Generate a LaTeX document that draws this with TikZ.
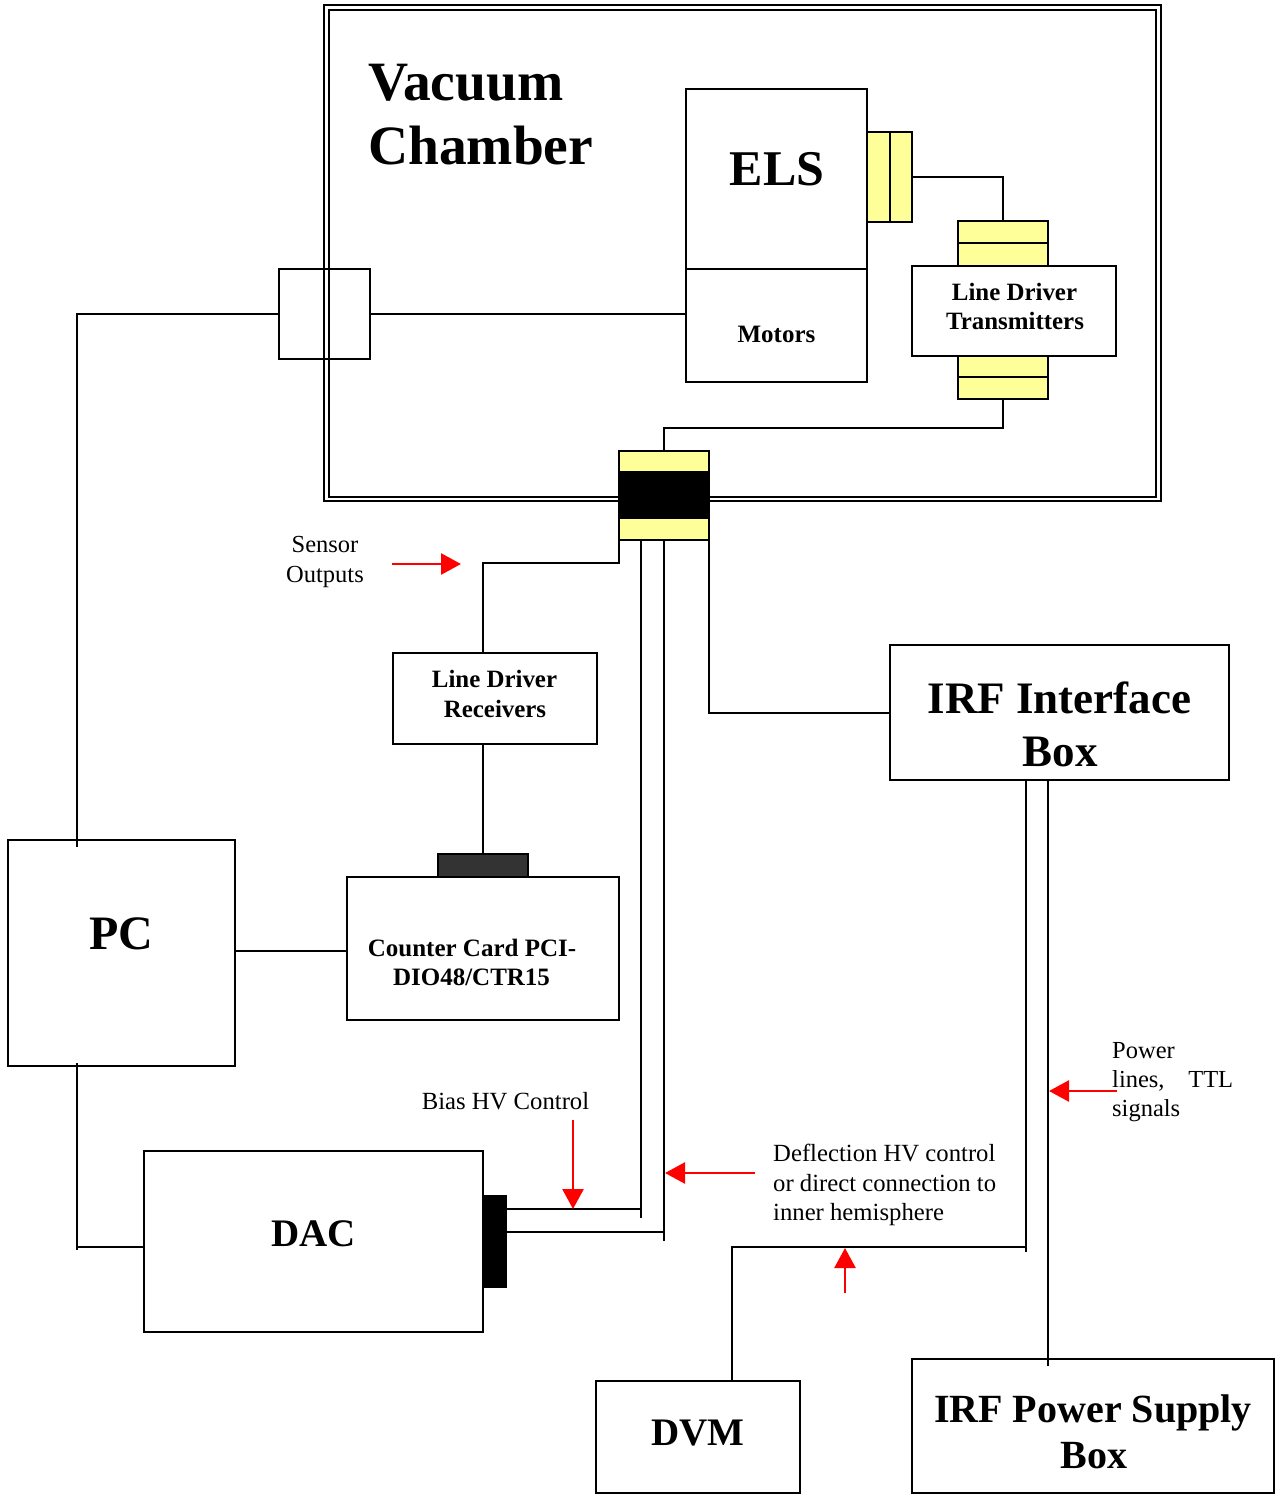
\documentclass[tikz,border=0pt]{standalone}
\usepackage{fontspec}
\setmainfont{Liberation Serif}
\usetikzlibrary{arrows.meta}
\definecolor{ylw}{HTML}{FFFF99}
\definecolor{darkc}{HTML}{333333}
\tikzset{
  box/.style={draw, line width=1.8pt, inner sep=0pt, outer sep=0pt},
  ybox/.style={box, fill=ylw},
  kbox/.style={box, fill=black},
  wire/.style={line width=2pt},
  redarrow/.style={draw=red, line width=2.6pt, -{Triangle[length=20pt,width=21pt]}},
  txt/.style={inner sep=0pt, anchor=base},
  txtl/.style={inner sep=0pt, anchor=base west},
}
\newcommand\fs[1]{\fontsize{#1}{#1}\selectfont}
\begin{document}
\begin{tikzpicture}[x=1pt,y=-1pt]
\useasboundingbox (0,0) rectangle (1279,1494);
% vacuum chamber double border
\node[box, minimum width=837pt, minimum height=496pt] (ch1) at (742.5,253) {};
\node[box, minimum width=827pt, minimum height=487pt] (ch2) at (742.5,253.5) {};
\node[txtl] (vac1) at (368,100) {\fs{55.5}\bfseries Vacuum};
\node[txtl] (vac2) at (368,164) {\fs{55.5}\bfseries Chamber};
% ELS and motors
\node[box, minimum width=181pt, minimum height=180pt] (els) at (776.5,179) {};
\node[box, minimum width=181pt, minimum height=113pt] (mot) at (776.5,325.5) {};
\node[txt] (elst) at (777,185) {\fs{50}\bfseries ELS};
\node[txt] (mott) at (776.5,342) {\fs{25}\bfseries Motors};
% ELS connector
\node[ybox, minimum width=23pt, minimum height=90pt] (elsA) at (878.5,177) {};
\node[ybox, minimum width=22pt, minimum height=90pt] (elsB) at (901,177) {};
% line driver transmitters
\node[box, minimum width=204pt, minimum height=90pt] (ldt) at (1014,311) {};
\node[ybox, minimum width=90pt, minimum height=22pt] (ldtT1) at (1003,232) {};
\node[ybox, minimum width=90pt, minimum height=23pt] (ldtT2) at (1003,254.5) {};
\node[ybox, minimum width=90pt, minimum height=21pt] (ldtB1) at (1003,366.5) {};
\node[ybox, minimum width=90pt, minimum height=22pt] (ldtB2) at (1003,388) {};
\node[txt] (ldt1) at (1014.5,300) {\fs{24.9}\bfseries Line Driver};
\node[txt] (ldt2) at (1015,329) {\fs{24.9}\bfseries Transmitters};
% feedthrough
\node[ybox, minimum width=90pt, minimum height=21pt] (f1) at (664,461.5) {};
\node[kbox, minimum width=90pt, minimum height=46pt] (f2) at (664,495) {};
\node[ybox, minimum width=90pt, minimum height=22pt] (f3) at (664,529) {};
% left connector
\node[box, minimum width=91pt, minimum height=90pt] (lc) at (324.5,314) {};
% PC
\node[box, minimum width=227pt, minimum height=226pt] (pc) at (121.5,953) {};
\node[txt] (pct) at (121,949) {\fs{48}\bfseries PC};
% line driver receivers
\node[box, minimum width=204pt, minimum height=91pt] (ldr) at (495,698.5) {};
\node[txt] (ldr1) at (494.5,687) {\fs{24.9}\bfseries Line Driver};
\node[txt] (ldr2) at (495,717) {\fs{24.9}\bfseries Receivers};
% counter card
\node[box, fill=darkc, minimum width=90pt, minimum height=23pt] (dk) at (483,865.5) {};
\node[box, minimum width=272pt, minimum height=143pt] (cc) at (483,948.5) {};
\node[txt] (cc1) at (472,956) {\fs{25}\bfseries Counter Card PCI-};
\node[txt] (cc2) at (471.5,985) {\fs{25}\bfseries DIO48/CTR15};
% IRF interface
\node[box, minimum width=339pt, minimum height=135pt] (irf) at (1059.5,712.5) {};
\node[txt] (irf1) at (1059.5,713) {\fs{45}\bfseries IRF Interface};
\node[txt] (irf2) at (1060,766) {\fs{45}\bfseries Box};
% DAC
\node[box, minimum width=339pt, minimum height=181pt] (dac) at (313.5,1241.5) {};
\node[kbox, minimum width=23pt, minimum height=91pt] (dacc) at (494.5,1241.5) {};
\node[txt] (dact) at (313.5,1246) {\fs{39}\bfseries DAC};
% DVM
\node[box, minimum width=204pt, minimum height=112pt] (dvm) at (698,1437) {};
\node[txt] (dvmt) at (698,1445) {\fs{39}\bfseries DVM};
% IRF power supply
\node[box, minimum width=362pt, minimum height=134pt] (ps) at (1093,1426) {};
\node[txt] (ps1) at (1093,1422) {\fs{40}\bfseries IRF Power Supply};
\node[txt] (ps2) at (1094,1468) {\fs{40}\bfseries Box};

% coordinates
\coordinate (pcin) at (77,847);
\coordinate (pcr) at (235,951);
\coordinate (q1) at (77,1247);
\coordinate (b1) at (641,1209);
\coordinate (b2) at (664,1232);
\coordinate (p1) at (1026,1247);
\coordinate (p2) at (1048,1359);
\coordinate (d1) at (732,1381);

% wires
\draw[wire] (lc.east) -- (lc.east -| mot.west);
\draw[wire] (lc.west) -| (pcin);
\draw[wire] (elsB.east) -| (ldtT1.north);
\draw[wire] (ldtB2.south) -- ++(0,29) -| (f1.north);
\draw[wire] (f3.south west) -- ++(0,23) -| (ldr.north -| dk.north);
\draw[wire] (ldr.south -| dk.north) -- (dk.north);
\draw[wire] (pcr) -- (cc.west |- pcr);
\draw[wire] (f3.south -| b1) -- ([yshift=-9pt]b1);
\draw[wire] (dacc.east |- b1) -- (b1);
\draw[wire] (f3.south) -- ([yshift=-9pt]b2);
\draw[wire] (dacc.east |- b2) -- (b2);
\draw[wire] (f3.south east) |- (irf.west);
\draw[wire] (irf.south -| p1) -- ([yshift=-5pt]p1);
\draw[wire] (p1) -| (d1);
\draw[wire] (irf.south -| p2) -- ([yshift=-7pt]p2);
\draw[wire] ([yshift=3pt]pc.south -| q1) -- ([yshift=-3pt]q1);
\draw[wire] (q1) -- (dac.west |- q1);

% labels and red arrows
\node[txt] (so1) at (325,552) {\fs{24.5}Sensor};
\node[txt] (so2) at (325,582) {\fs{24.5}Outputs};
\coordinate (sa1) at (392,564);
\coordinate (sa2) at (461,564);
\draw[redarrow] (sa1) -- (sa2);

\node[txt] (bias) at (505.5,1109) {\fs{24.7}Bias HV Control};
\coordinate (ba1) at (573,1120);
\coordinate (ba2) at (573,1209);
\draw[redarrow] (ba1) -- (ba2);

\node[txtl] (df1) at (773,1161) {\fs{24.7}Deflection HV control};
\node[txtl] (df2) at (773,1191) {\fs{24.7}or direct connection to};
\node[txtl] (df3) at (773,1220) {\fs{24.7}inner hemisphere};
\coordinate (da1) at (755,1173);
\coordinate (da2) at (665,1173);
\draw[redarrow] (da1) -- (da2);
\coordinate (ua1) at (845,1293);
\coordinate (ua2) at (845,1248);
\draw[redarrow] (ua1) -- (ua2);

\node[txtl] (pw1) at (1112,1058) {\fs{24.5}Power};
\node[txtl] (pw2) at (1112,1087) {\fs{24.5}\makebox[121pt][l]{lines,\hfill TTL}};
\node[txtl] (pw3) at (1112,1116) {\fs{24.5}signals};
\coordinate (pa1) at (1117,1091);
\coordinate (pa2) at (1049,1091);
\draw[redarrow] (pa1) -- (pa2);
\end{tikzpicture}
\end{document}
